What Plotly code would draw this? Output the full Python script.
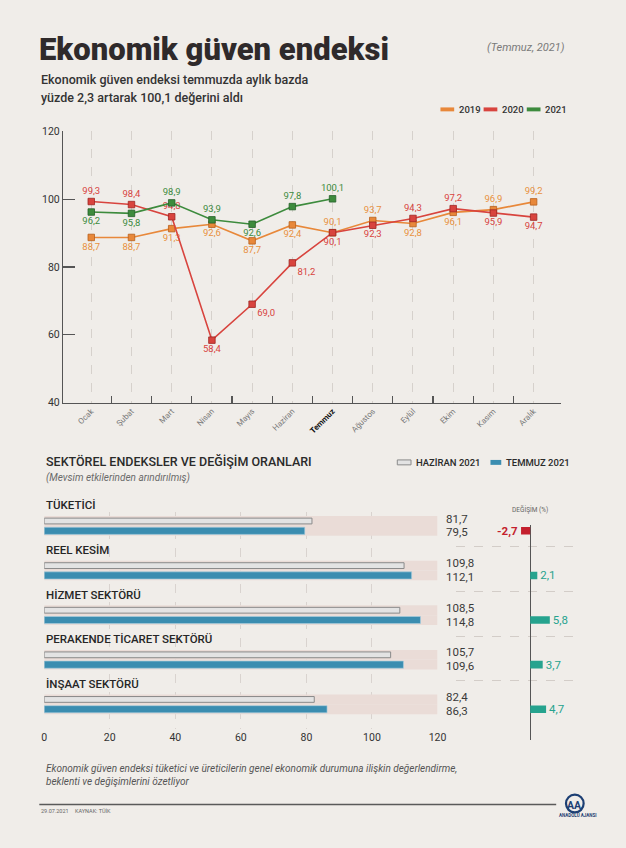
import plotly.graph_objects as go

# ---------------- data ----------------
months = ["Ocak", "Şubat", "Mart", "Nisan", "Mayıs", "Haziran", "Temmuz",
          "Ağustos", "Eylül", "Ekim", "Kasım", "Aralık"]
v2019 = [88.7, 88.7, 91.3, 92.6, 87.7, 92.4, 90.1, 93.7, 92.8, 96.1, 96.9, 99.2]
v2020 = [99.3, 98.4, 94.8, 58.4, 69.0, 81.2, 90.1, 92.3, 94.3, 97.2, 95.9, 94.7]
v2021 = [96.2, 95.8, 98.9, 93.9, 92.6, 97.8, 100.1]
pos2019 = ["bottom center"] * 6 + ["top center", "top center", "bottom center",
                                    "bottom center", "top center", "top center"]
pos2020 = ["top center", "top center", "top center", "bottom center", "bottom right",
           "bottom right", "bottom center", "bottom center", "top center", "top center",
           "bottom center", "bottom center"]
pos2021 = ["bottom center", "bottom center", "top center", "top center",
           "bottom center", "top center", "top center"]
y_ticks = [40, 60, 80, 100, 120]

sectors = ["TÜKETİCİ", "REEL KESİM", "HİZMET SEKTÖRÜ",
           "PERAKENDE TİCARET SEKTÖRÜ", "İNŞAAT SEKTÖRÜ"]
haziran = [81.7, 109.8, 108.5, 105.7, 82.4]
temmuz = [79.5, 112.1, 114.8, 109.6, 86.3]
degisim = [-2.7, 2.1, 5.8, 3.7, 4.7]
bar_ticks = [0, 20, 40, 60, 80, 100, 120]
bar_max = 120

# ---------------- helpers ----------------
W, H = 626, 848
def px(x):
    return x / W
def py(y):
    return 1 - y / H
def fmt(v):
    return f"{v:.1f}".replace(".", ",")

C19, C20, C21 = "#e8883a", "#d8443e", "#3d8b3d"
C19T = "#e8913e"
BG = "#f0ede9"
FONT = "Roboto"

ROW0, PITCH = 533, 45.3
def row_px(u):
    return ROW0 + u * PITCH

fig = go.Figure()

# ---------------- line chart ----------------
idx = list(range(len(months)))
for vals, pos, col, tcol, dark, name in [
    (v2019, pos2019, C19, C19T, "#b8601c", "2019"),
    (v2020, pos2020, C20, C20, "#9e2622", "2020"),
    (v2021, pos2021, C21, C21, "#25602a", "2021"),
]:
    fig.add_trace(go.Scatter(
        x=idx[:len(vals)], y=vals, mode="lines+markers+text", name=name,
        line=dict(color=col, width=1.6),
        marker=dict(symbol="square", size=6.5, color=col, line=dict(color=dark, width=0.8)),
        text=[fmt(v) for v in vals], textposition=pos,
        textfont=dict(family=FONT, size=9.5, color=tcol),
        xaxis="x", yaxis="y", showlegend=False, cliponaxis=False,
    ))

# invisible trace that activates the category-boundary tick axis
fig.add_trace(go.Scatter(x=[None], y=[None], xaxis="x2", yaxis="y", showlegend=False))

# ---------------- sector bars ----------------
n = len(sectors)
gy = list(range(n))
hz_y = [i - 0.22 for i in gy]
fig.add_trace(go.Bar(y=hz_y, x=[bar_max] * n, orientation="h", width=0.22,
                     marker=dict(color="#eadcd7", line=dict(width=0)),
                     xaxis="x3", yaxis="y3", showlegend=False, hoverinfo="skip"))
fig.add_trace(go.Bar(y=gy, x=[bar_max] * n, orientation="h", width=0.22,
                     marker=dict(color="#eadcd7", line=dict(width=0)),
                     xaxis="x3", yaxis="y3", showlegend=False, hoverinfo="skip"))
fig.add_trace(go.Bar(y=hz_y, x=haziran, orientation="h", width=0.13,
                     marker=dict(color="#e3e3e3", line=dict(color="#8a8a8a", width=1)),
                     xaxis="x3", yaxis="y3", showlegend=False))
fig.add_trace(go.Bar(y=gy, x=temmuz, orientation="h", width=0.16,
                     marker=dict(color="#3b8db0", line=dict(color="#a9d0e0", width=0.6)),
                     xaxis="x3", yaxis="y3", showlegend=False))

# change bars
ch_col = ["#c41f2d" if v < 0 else "#26a38e" for v in degisim]
ch_txt = [f"<b>{fmt(v)}</b>" if v < 0 else fmt(v) for v in degisim]
fig.add_trace(go.Bar(y=gy, x=degisim, orientation="h", width=0.17,
                     marker=dict(color=ch_col, line=dict(width=0)),
                     text=ch_txt, textposition="outside", constraintext="none",
                     textfont=dict(family=FONT, size=11.5, color=ch_col),
                     cliponaxis=False,
                     xaxis="x4", yaxis="y4", showlegend=False))

# ---------------- texts ----------------
ann = []
def text(x, y, s, size, color="#333", xanchor="left", yanchor="middle",
         weight="normal", style="normal", xref="paper", yref="paper", xshift=0, yshift=0,
         family=FONT):
    ann.append(dict(x=x, y=y, xref=xref, yref=yref, text=s, showarrow=False,
                    xanchor=xanchor, yanchor=yanchor, xshift=xshift, yshift=yshift,
                    font=dict(family=family, size=size, color=color, weight=weight, style=style)))

text(px(35), py(44), "Ekonomik güven endeksi", 31, "#2f2a2b", weight=900)
text(px(575), py(42), "(Temmuz, 2021)", 11, "#7a7a7a", xanchor="right", style="italic")
text(px(37), py(75), "Ekonomik güven endeksi temmuzda aylık bazda", 12.5, "#333", weight=500)
text(px(37), py(93), "yüzde 2,3 artarak 100,1 değerini aldı", 12.5, "#333", weight=500)

shapes = []
for x0, col, lab in [(446, C19, "2019"), (490, C20, "2020"), (534, C21, "2021")]:
    shapes.append(dict(type="rect", xref="paper", yref="paper",
                       x0=px(x0), x1=px(x0 + 14), y0=py(107), y1=py(103),
                       fillcolor=col, line=dict(width=0)))
    text(px(x0 + 17), py(105), lab, 9.5, "#333", weight=500)

text(px(42), py(463), "SEKTÖREL ENDEKSLER VE DEĞİŞİM ORANLARI", 12.5, "#2a2a2a", weight=500)
text(px(42), py(479), "(Mevsim etkilerinden arındırılmış)", 10, "#6a6a6a", style="italic")
shapes.append(dict(type="rect", xref="paper", yref="paper",
                   x0=px(402), x1=px(416), y0=py(466), y1=py(461),
                   fillcolor="#e3e3e3", line=dict(color="#8a8a8a", width=1)))
text(px(419), py(463.5), "HAZİRAN 2021", 9.5, "#2a2a2a", weight=500)
shapes.append(dict(type="rect", xref="paper", yref="paper",
                   x0=px(497), x1=px(508), y0=py(466), y1=py(461),
                   fillcolor="#3b8db0", line=dict(width=0)))
text(px(511), py(463.5), "TEMMUZ 2021", 9.5, "#2a2a2a", weight=500)

for i, s in enumerate(sectors):
    text(0, py(row_px(i - 0.57)), s, 11.5, "#262626", xref="x3", weight=500)
    text(bar_max, hz_y[i], fmt(haziran[i]), 11.5, "#3a3a3a", xref="x3", yref="y3",
         xshift=6, yshift=2.5)
    text(bar_max, gy[i], fmt(temmuz[i]), 11.5, "#3a3a3a", xref="x3", yref="y3",
         xshift=6, yshift=-1.5)

text(0, py(511.5), "DEĞİŞİM (%)", 6.5, "#666", xref="x4", xanchor="center")

# footer
text(px(42), py(774), "Ekonomik güven endeksi tüketici ve üreticilerin genel ekonomik durumuna ilişkin değerlendirme,",
     10, "#555", style="italic")
text(px(42), py(788), "beklenti ve değişimlerini özetliyor", 10, "#555", style="italic")
shapes.append(dict(type="line", xref="paper", yref="paper", x0=px(37), x1=px(564),
                   y0=py(811), y1=py(811), line=dict(color="#5a5a5a", width=1.5)))
text(px(37), py(818), "29.07.2021", 5.5, "#666")
text(px(71), py(818), "KAYNAK: TÜİK", 5.5, "#666")
# logo
shapes.append(dict(type="circle", xref="paper", yref="paper",
                   x0=px(574), x1=px(592), y0=py(819), y1=py(801),
                   line=dict(color="#1d3f73", width=2.2)))
text(px(583), py(811.5), "<b>AA</b>", 10.5, "#1d3f73", xanchor="center")
text(px(586), py(822), "ANADOLU AJANSI", 4.5, "#1d3f73", xanchor="center", weight=700)

# ---------------- axes ----------------
xr = [-0.707, 11.683]
month_text = [f"<b><span style='color:#111'>{m}</span></b>" if m == "Temmuz" else m for m in months]
bounds = [i + 0.5 for i in range(len(months) - 1)] + [xr[1] - 0.003]

y3_top, y3_bot = 514, 734.4
y3_range = [(y3_bot - ROW0) / PITCH, (y3_top - ROW0) / PITCH]
y4_top, y4_bot = 527, 745
y4_range = [(y4_bot - ROW0) / PITCH, (y4_top - ROW0) / PITCH]

fig.update_layout(
    width=W, height=H, margin=dict(l=0, r=0, t=0, b=0),
    paper_bgcolor=BG, plot_bgcolor="rgba(0,0,0,0)",
    font=dict(family=FONT, color="#333"),
    barmode="overlay", showlegend=False, hovermode=False,
    annotations=ann, shapes=shapes,
    xaxis=dict(domain=[px(61), px(569)], range=xr, anchor="y",
               tickvals=idx, ticktext=month_text, tickangle=-45,
               tickfont=dict(family=FONT, size=8, color="#777"),
               ticks="", showline=True, linecolor="#555", linewidth=1,
               showgrid=True, gridcolor="#d6d1cc", griddash="dash", gridwidth=1,
               zeroline=False),
    xaxis2=dict(overlaying="x", range=xr, anchor="y", tickvals=bounds,
                ticks="inside", ticklen=7, tickcolor="#555", tickwidth=1.2,
                showticklabels=False, showgrid=False, zeroline=False, showline=False),
    yaxis=dict(domain=[py(402.7), py(127.3)], range=[40, 120], anchor="x",
               tickvals=y_ticks, ticks="inside", ticklen=12, tickcolor="#555", tickwidth=1.2,
               showline=True, linecolor="#555", linewidth=1, showgrid=False, zeroline=False,
               tickfont=dict(family=FONT, size=10.5, color="#333")),
    xaxis3=dict(domain=[px(42), px(443)], range=[0, bar_max], anchor="y3",
                tickvals=bar_ticks, ticks="", showline=False, zeroline=False,
                showgrid=True, gridcolor="#d9d3cf", griddash="dash", gridwidth=1,
                tickfont=dict(family=FONT, size=10.5, color="#333")),
    yaxis3=dict(domain=[py(y3_bot), py(y3_top)], range=y3_range, anchor="x3",
                showticklabels=False, showgrid=False, zeroline=False, ticks=""),
    xaxis4=dict(domain=[px(461.7), px(590)], range=[-21.97, 15.22], anchor="y4",
                showticklabels=False, showgrid=False, ticks="",
                zeroline=True, zerolinecolor="#555", zerolinewidth=1.3),
    yaxis4=dict(domain=[py(y4_bot), py(y4_top)], range=y4_range, anchor="x4",
                tickvals=[i + 0.36 for i in range(n - 1)], showticklabels=False, ticks="",
                showgrid=True, gridcolor="#d3cdc8", griddash="dash", gridwidth=1,
                zeroline=False),
)

fig.write_html("out.html", config={"displayModeBar": False, "staticPlot": True},
               post_script="document.body.style.margin='0';document.body.style.overflow='hidden';")
